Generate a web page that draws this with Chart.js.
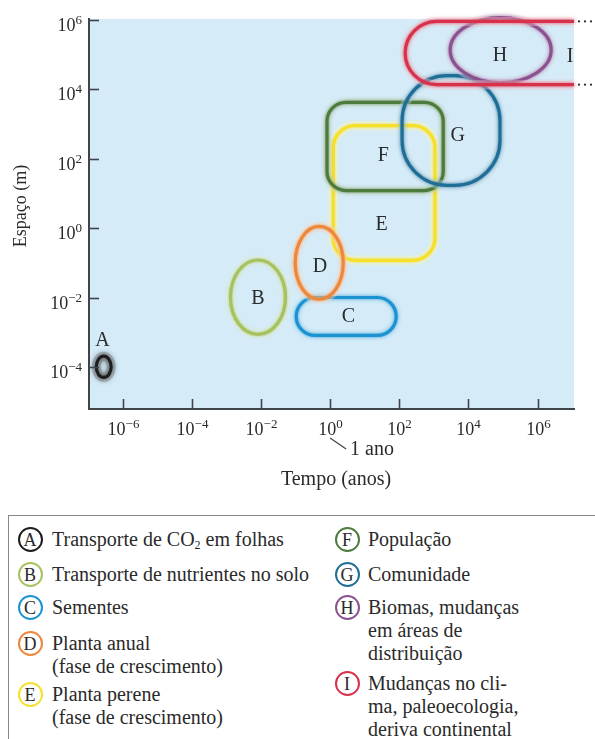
<!DOCTYPE html>
<html>
<head>
<meta charset="utf-8">
<script src="https://cdn.jsdelivr.net/npm/chart.js@4.4.1/dist/chart.umd.min.js"></script>
<style>
    body {
        margin: 0;
        width: 595px;
        height: 739px;
        overflow: hidden;
        position: relative;
        background: #fff;
        font-family: 'Liberation Serif', serif;
        color: #2a2a2a;
    }
    #chart { position: absolute; left: 0; top: 0; }
    #legend-box {
        position: absolute;
        left: 8px;
        top: 515px;
        width: 640px;
        height: 260px;
        border: 1.5px solid #868686;
    }
    .item { position: absolute; font-size: 20px; line-height: 23px; white-space: nowrap; }
    .item sub { font-size: 12px; line-height: 0; vertical-align: -3px; }
    .badge {
        position: absolute;
        width: 21px;
        height: 21px;
        border: 2px solid;
        border-radius: 50%;
        font-size: 18px;
        line-height: 22px;
        text-align: center;
        color: #2a2a2a;
    }
</style>
</head>
<body>
<canvas id="chart" width="595" height="500"></canvas>
<div id="legend-box"></div>
<div id="legend"></div>
<script>
// ---- data (all in powers of ten: log10 of anos / metros) ----
const groups = ['A', 'B', 'C', 'D', 'E', 'F', 'G', 'H', 'I'];
const groupNames = [
    'Transporte de CO<sub>2</sub> em folhas',
    'Transporte de nutrientes no solo',
    'Sementes',
    'Planta anual<br>(fase de crescimento)',
    'Planta perene<br>(fase de crescimento)',
    'População',
    'Comunidade',
    'Biomas, mudanças<br>em áreas de<br>distribuição',
    'Mudanças no cli-<br>ma, paleoecologia,<br>deriva continental',
];
const tempoDe = [-6.76, -2.88, -0.98, -1.01, 0.09, -0.09, 2.08, 3.47, 2.17];
const tempoAte = [-6.33, -1.29, 1.91, 0.38, 3.03, 3.27, 4.91, 6.39, 7.05]; // I continues past the axis
const espacoDe = [-4.29, -3.05, -3.08, -2.04, -0.92, 1.09, 1.24, 4.2, 4.14];
const espacoAte = [-3.68, -0.91, -1.99, 0.06, 2.96, 3.63, 4.4, 6.07, 5.96];
const labelTempo = [-6.58, -2.09, 0.53, -0.29, 1.49, 1.54, 3.69, 4.91, 6.94];
const labelEspaco = [-3.22, -1.99, -2.52, -1.08, 0.12, 2.13, 2.7, 5.01, 4.96];
const xTickExps = [-6, -4, -2, 0, 2, 4, 6];
const yTickExps = [-4, -2, 0, 2, 4, 6];

// ---- styles ----
const colors = ['#1e1e1e', '#a6c25e', '#1b93d2', '#ef873a', '#f6e02a', '#4d7b3b', '#1f6e97', '#8a5390', '#d8314c'];
const kinds = ['ellipse', 'ellipse', 'pill', 'ellipse', 'box', 'box', 'box', 'ellipse', 'open'];
const corner = [0, 0, 0, 0, 22, 19, 45, 0, 0];
const drawOrder = [1, 2, 4, 3, 5, 6, 7, 8, 0];
const SERIF = '"Liberation Serif", serif';
const INK = '#2a2a2a';

function shapePath(ctx, kind, x0, x1, yb, yt, r, rightEdge) {
    const w = x1 - x0;
    const h = yb - yt;
    ctx.beginPath();
    if (kind === 'ellipse') {
        ctx.ellipse((x0 + x1) / 2, (yb + yt) / 2, w / 2, h / 2, 0, 0, Math.PI * 2);
    } else if (kind === 'open') {
        const rr = h / 2;
        ctx.moveTo(rightEdge, yt);
        ctx.lineTo(x0 + rr, yt);
        ctx.arc(x0 + rr, yt + rr, rr, -Math.PI / 2, Math.PI / 2, true);
        ctx.lineTo(rightEdge, yb);
    } else {
        const rr = kind === 'pill' ? h / 2 : r;
        ctx.roundRect(x0, yt, w, h, Math.min(rr, w / 2, h / 2));
    }
}

const plotBackground = {
    id: 'plotBackground',
    beforeDraw(chart) {
        const { ctx, chartArea: a } = chart;
        ctx.save();
        ctx.fillStyle = '#d5ecf8';
        ctx.fillRect(a.left, a.top, a.right - a.left, a.bottom - a.top);
        ctx.restore();
    },
};

const rangeShapes = {
    id: 'rangeShapes',
    beforeDatasetsDraw(chart) {
        const { ctx, chartArea: a } = chart;
        const xs = chart.scales.x;
        const ys = chart.scales.y;
        drawOrder.forEach((i) => {
            const x0 = xs.getPixelForValue(10 ** tempoDe[i]);
            const x1 = xs.getPixelForValue(10 ** tempoAte[i]);
            const yb = ys.getPixelForValue(10 ** espacoDe[i]);
            const yt = ys.getPixelForValue(10 ** espacoAte[i]);
            ctx.save();
            // soft light halo
            shapePath(ctx, kinds[i], x0, x1, yb, yt, corner[i], a.right);
            ctx.lineWidth = 9;
            ctx.strokeStyle = i === 0 ? 'rgba(120,120,120,0.35)' : 'rgba(255,255,255,0.35)';
            ctx.stroke();
            // coloured outline with glow
            shapePath(ctx, kinds[i], x0, x1, yb, yt, corner[i], a.right);
            ctx.shadowColor = colors[i];
            ctx.shadowBlur = i === 0 ? 6 : 4;
            ctx.lineWidth = 3.2;
            ctx.strokeStyle = colors[i];
            ctx.stroke();
            ctx.restore();
            if (kinds[i] === 'open') {
                // dotted continuation beyond the axis
                ctx.save();
                ctx.fillStyle = INK;
                [yt, yb].forEach((yy) => {
                    for (let k = 0; k < 3; k++) {
                        ctx.beginPath();
                        ctx.arc(a.right + 5 + k * 6, yy, 1.1, 0, Math.PI * 2);
                        ctx.fill();
                    }
                });
                ctx.restore();
            }
        });
    },
};

const groupLetters = {
    id: 'groupLetters',
    afterDatasetsDraw(chart) {
        const { ctx } = chart;
        const meta = chart.getDatasetMeta(0);
        ctx.save();
        ctx.font = '20px ' + SERIF;
        ctx.fillStyle = INK;
        ctx.textAlign = 'center';
        ctx.textBaseline = 'middle';
        meta.data.forEach((pt, i) => {
            ctx.fillText(groups[i], pt.x, pt.y + 1);
        });
        ctx.restore();
    },
};

function powerLabel(ctx, exp, x, y, align) {
    const base = '10';
    const sup = exp < 0 ? '\u2212' + -exp : String(exp);
    ctx.font = '18px ' + SERIF;
    const wb = ctx.measureText(base).width;
    ctx.font = '13px ' + SERIF;
    const ws = ctx.measureText(sup).width;
    const left = align === 'center' ? x - (wb + ws) / 2 : x - wb - ws;
    ctx.textAlign = 'left';
    ctx.textBaseline = 'alphabetic';
    ctx.font = '18px ' + SERIF;
    ctx.fillText(base, left, y);
    ctx.font = '13px ' + SERIF;
    ctx.fillText(sup, left + wb, y - 7);
}

const axisDecor = {
    id: 'axisDecor',
    afterDraw(chart) {
        const { ctx, chartArea: a } = chart;
        const xs = chart.scales.x;
        const ys = chart.scales.y;
        ctx.save();
        ctx.strokeStyle = '#40454a';
        ctx.lineWidth = 1.6;
        ctx.fillStyle = INK;
        xTickExps.forEach((e) => {
            const px = Math.round(xs.getPixelForValue(10 ** e)) + 0.5;
            ctx.beginPath();
            ctx.moveTo(px, a.bottom);
            ctx.lineTo(px, a.bottom - 10);
            ctx.stroke();
            powerLabel(ctx, e, px, a.bottom + 26, 'center');
        });
        yTickExps.forEach((e) => {
            const py = Math.round(ys.getPixelForValue(10 ** e)) + 0.5;
            ctx.beginPath();
            ctx.moveTo(a.left, py);
            ctx.lineTo(a.left + 10, py);
            ctx.stroke();
            powerLabel(ctx, e, 82, py + 10, 'right');
        });

        // "1 ano" note under 10^0
        const p0 = xs.getPixelForValue(1);
        ctx.lineWidth = 1.2;
        ctx.beginPath();
        ctx.moveTo(p0, a.bottom + 29);
        ctx.lineTo(p0 + 16, a.bottom + 40);
        ctx.stroke();
        ctx.font = '20px ' + SERIF;
        ctx.textAlign = 'left';
        ctx.fillText('1 ano', p0 + 20, a.bottom + 46);

        // axis titles
        ctx.textAlign = 'center';
        ctx.fillText('Tempo (anos)', 336, a.bottom + 76);
        ctx.translate(26, 206);
        ctx.rotate(-Math.PI / 2);
        ctx.font = '18px ' + SERIF;
        ctx.fillText('Espaço (m)', 0, 0);
        ctx.restore();
    },
};

new Chart(document.getElementById('chart'), {
    type: 'scatter',
    data: {
        datasets: [
            {
                label: 'letras',
                data: groups.map((g, i) => ({ x: 10 ** labelTempo[i], y: 10 ** labelEspaco[i] })),
                pointRadius: 0,
            },
        ],
    },
    options: {
        responsive: false,
        animation: false,
        events: [],
        layout: { padding: { top: 19, right: 21, left: 0, bottom: 0 } },
        plugins: { legend: { display: false }, tooltip: { enabled: false } },
        scales: {
            x: {
                type: 'logarithmic',
                min: 10 ** -6.97,
                max: 10 ** 7.05,
                grid: { display: false },
                border: { display: true, color: '#40454a', width: 2 },
                ticks: { display: false },
                afterFit(s) {
                    s.height = 91;
                },
            },
            y: {
                type: 'logarithmic',
                min: 10 ** -5.2,
                max: 10 ** 6.03,
                grid: { display: false },
                border: { display: true, color: '#40454a', width: 2 },
                ticks: { display: false },
                afterFit(s) {
                    s.width = 89;
                },
            },
        },
    },
    plugins: [plotBackground, rangeShapes, groupLetters, axisDecor],
});

// ---- legend (HTML) ----
const legendCol = [0, 0, 0, 0, 0, 1, 1, 1, 1];
const legendRowCenter = [539, 574, 607, 643, 694, 539, 574, 607, 683];
const legend = document.getElementById('legend');
groups.forEach((g, i) => {
    const cx = legendCol[i] === 0 ? 30 : 347;
    const tx = legendCol[i] === 0 ? 52 : 368;
    const badge = document.createElement('div');
    badge.className = 'badge';
    badge.style.borderColor = colors[i];
    badge.style.left = cx - 12.5 + 'px';
    badge.style.top = legendRowCenter[i] - 12.5 + 'px';
    badge.textContent = g;
    legend.appendChild(badge);
    const item = document.createElement('div');
    item.className = 'item';
    item.style.left = tx + 'px';
    item.style.top = legendRowCenter[i] - 11.5 + 'px';
    item.innerHTML = groupNames[i];
    legend.appendChild(item);
});
</script>
</body>
</html>
